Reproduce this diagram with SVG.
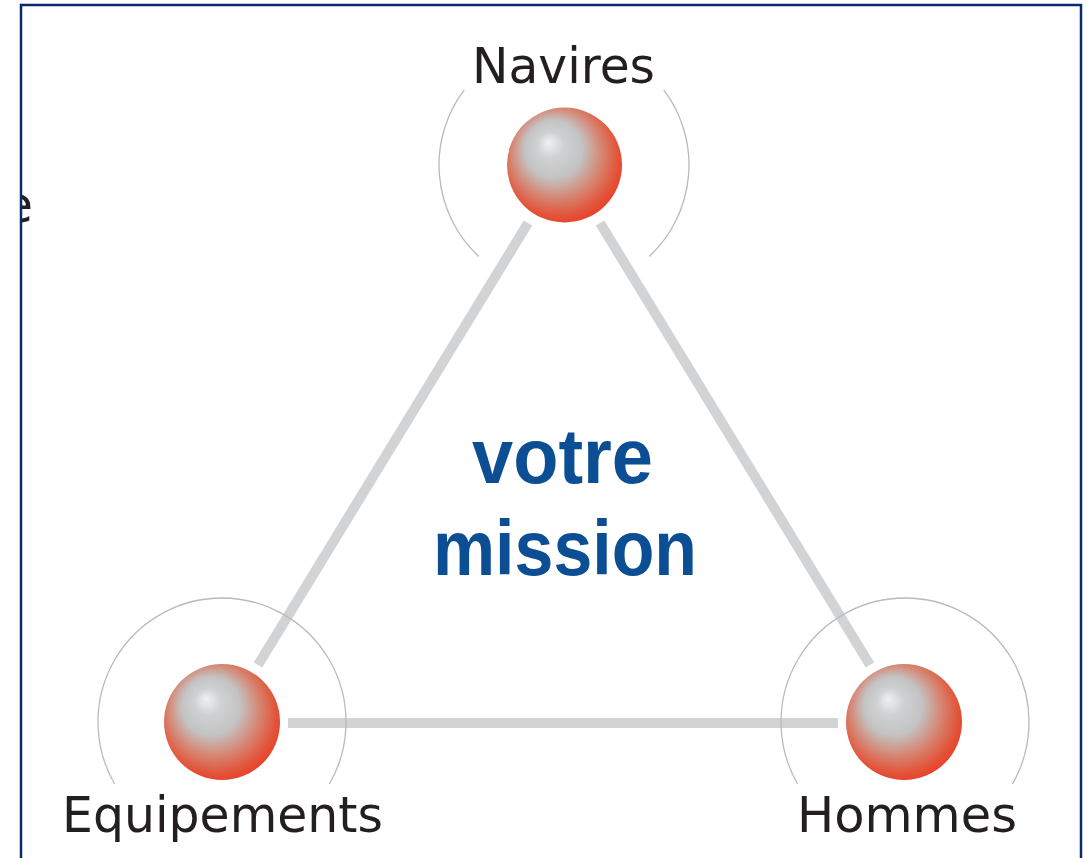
<svg xmlns="http://www.w3.org/2000/svg" width="1089" height="858" viewBox="0 0 1089 858">
<defs>
<radialGradient id="ball" cx="0.46" cy="0.44" r="0.57" fx="0.36" fy="0.3">
<stop offset="0" stop-color="#f0f1f1"/>
<stop offset="0.2" stop-color="#cfd1d3"/>
<stop offset="0.44" stop-color="#c3c3c3"/>
<stop offset="0.7" stop-color="#d7836f"/>
<stop offset="0.9" stop-color="#e2553b"/>
<stop offset="1" stop-color="#e8432a"/>
</radialGradient>
<clipPath id="frameClip"><rect x="21" y="0" width="1068" height="858"/></clipPath>
<style>
.lbl{font-family:"DejaVu Sans","Liberation Sans",sans-serif;font-size:50px;fill:#231f20;}
.mis{font-family:"Liberation Sans","DejaVu Sans",sans-serif;font-weight:bold;font-size:78px;fill:#0c4e93;}
.link{stroke:#d1d3d4;stroke-width:10;fill:none;stroke-linecap:butt;}
.orbit{stroke:#b8babd;stroke-width:1.3;fill:none;}
.ball{fill:url(#ball);}
</style>
</defs>
<rect x="0" y="0" width="1089" height="858" fill="#ffffff"/>
<text class="lbl" x="33" y="222" text-anchor="end" clip-path="url(#frameClip)">e</text>
<rect x="21" y="5" width="1060" height="870" fill="none" stroke="#0a2a6e" stroke-width="2.5"/>
<g id="connectors">
<line class="link" x1="528" y1="223" x2="258" y2="665"/>
<line class="link" x1="600" y1="223" x2="870" y2="665"/>
<line class="link" x1="288" y1="723" x2="838" y2="723"/>
</g>
<g id="navires">
<path class="orbit" d="M464.2 89.8 A125 125 0 0 0 478.75 256.4"/>
<path class="orbit" d="M663.8 89.8 A125 125 0 0 1 649.25 256.4"/>
<circle class="ball" cx="564.5" cy="165" r="57.5"/>
<text class="lbl" x="472" y="83" textLength="183" lengthAdjust="spacingAndGlyphs">Navires</text>
</g>
<g id="equipements">
<path class="orbit" d="M114.6 784 A124 124 0 1 1 329.4 784"/>
<circle class="ball" cx="222" cy="722" r="58"/>
<text class="lbl" x="62" y="832" textLength="321" lengthAdjust="spacingAndGlyphs">Equipements</text>
</g>
<g id="hommes">
<path class="orbit" d="M797.6 784 A124 124 0 1 1 1012.4 784"/>
<circle class="ball" cx="904" cy="722" r="58"/>
<text class="lbl" x="797" y="832" textLength="220" lengthAdjust="spacingAndGlyphs">Hommes</text>
</g>
<g id="mission">
<text class="mis" x="472" y="483" textLength="181" lengthAdjust="spacingAndGlyphs">votre</text>
<text class="mis" x="433" y="575" textLength="264" lengthAdjust="spacingAndGlyphs">mission</text>
</g>
</svg>
